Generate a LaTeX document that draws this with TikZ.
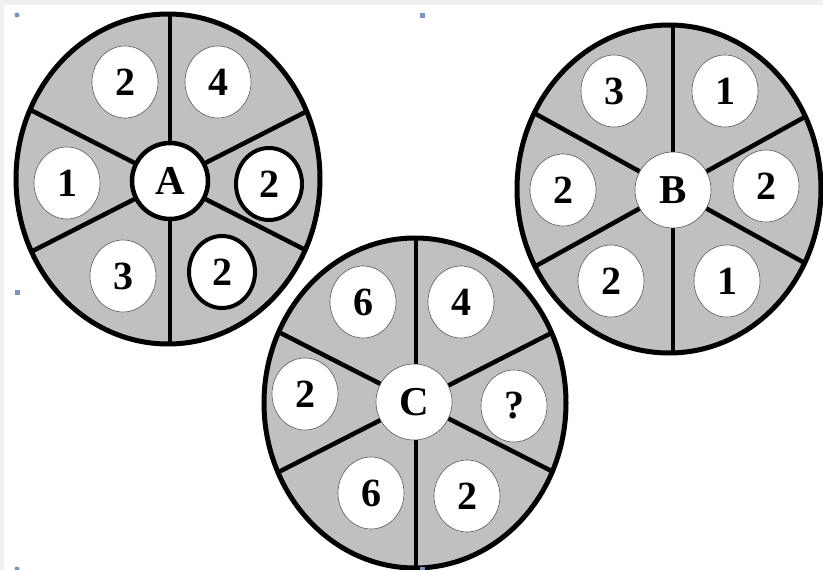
\documentclass[tikz,border=0pt]{standalone}
\usepackage{fontspec}
\setmainfont{Liberation Serif}
\usetikzlibrary{shapes.geometric}
\definecolor{wheelgray}{RGB}{192,192,192}
\definecolor{pagegray}{RGB}{240,240,240}
\definecolor{handleblue}{RGB}{122,150,192}

\begin{document}
\begin{tikzpicture}[
			x=1pt, y=-1pt,
			wheel/.style={draw=black, line width=5pt},
			spoke/.style={draw=black, line width=4.5pt},
			hub/.style={circle, fill=white, draw=gray!70!black, line width=0.6pt, minimum size=76pt, inner sep=0pt, font=\fontsize{41}{44}\selectfont\bfseries},
			slot/.style={ellipse, fill=white, draw=gray!70!black, line width=0.6pt, minimum width=66pt, minimum height=72pt, inner sep=0pt, font=\fontsize{40}{44}\selectfont\bfseries},
			marked/.style={draw=black, line width=4pt},
			handle/.style={fill=handleblue}
		]
		% page
		\fill[pagegray] (0,0) rectangle (823,570);
		\fill[white] (4,5) rectangle (823,570);
		\useasboundingbox (0,0) rectangle (823,570);
		
		% Wheel A
		\coordinate (cA) at (170,181);
		\fill[wheelgray] (168,179) ellipse [x radius=152pt, y radius=165pt];
		\begin{scope}
			\clip (168,179) ellipse [x radius=152pt, y radius=165pt];
			\foreach \ang in {90,153,207,270,333,27}
				\draw[spoke] (cA) -- ++(\ang:220pt);
		\end{scope}
		\draw[wheel] (168,179) ellipse [x radius=152pt, y radius=165pt];
		\node[hub, draw=black, line width=4.5pt] (A) at (cA) {A};
		\node[slot] (a1) at (125,82) {2};
		\node[slot] (a2) at (218,82) {4};
		\node[slot] (a3) at (67,183) {1};
		\node[slot, marked] (a4) at (269,184) {2};
		\node[slot, marked] (a5) at (222,272) {2};
		\node[slot] (a6) at (123,276) {3};
		
		% Wheel B
		\coordinate (cB) at (673,190);
		\fill[wheelgray] (669,189) ellipse [x radius=152pt, y radius=164pt];
		\begin{scope}
			\clip (669,189) ellipse [x radius=152pt, y radius=164pt];
			\foreach \ang in {90,151,209,270,331,29}
				\draw[spoke] (cB) -- ++(\ang:220pt);
		\end{scope}
		\draw[wheel] (669,189) ellipse [x radius=152pt, y radius=164pt];
		\node[hub] (B) at (cB) {B};
		\node[slot] (b1) at (614,91) {3};
		\node[slot] (b2) at (725,91) {1};
		\node[slot] (b3) at (563,190) {2};
		\node[slot] (b4) at (766,186) {2};
		\node[slot] (b5) at (611,281) {2};
		\node[slot] (b6) at (727,281) {1};
		
		% Wheel C
		\coordinate (cC) at (416,402);
		\fill[wheelgray] (415,403) ellipse [x radius=151pt, y radius=165pt];
		\begin{scope}
			\clip (415,403) ellipse [x radius=151pt, y radius=165pt];
			\foreach \ang in {90,153,207,270,333,27}
				\draw[spoke] (cC) -- ++(\ang:220pt);
		\end{scope}
		\draw[wheel] (415,403) ellipse [x radius=151pt, y radius=165pt];
		\node[hub] (C) at (414,402) {C};
		\node[slot] (c1) at (363,302) {6};
		\node[slot] (c2) at (461,302) {4};
		\node[slot] (c3) at (305,394) {2};
		\node[slot] (c4) at (514,406) {?};
		\node[slot] (c5) at (371,493) {6};
		\node[slot] (c6) at (467,496) {2};
		
		% selection handles
		\fill[handle] (17,15) circle (2.5pt);
		\fill[handle] (419.5,12.5) rectangle ++(5,5);
		\fill[handle] (14.5,289.5) rectangle ++(5,5);
		\fill[handle] (17,569) circle (2.5pt);
		\fill[handle] (419.5,566.5) rectangle ++(5,5);
\end{tikzpicture}
\end{document}
